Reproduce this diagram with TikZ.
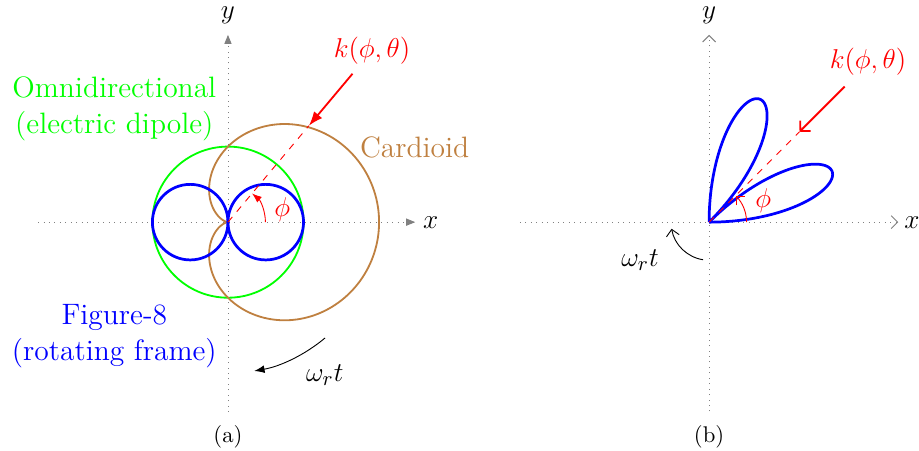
\documentclass[tikz,border=0pt]{standalone}
\usepackage{xcolor}
\usepackage{amssymb}
\usepackage{tikz}
\usetikzlibrary{arrows.meta}

\tikzset{
  axis/.style={gray, dotted},
  lbl/.style={font=\fontsize{13}{16}\selectfont, align=center},
}

\begin{document}
\begin{tikzpicture}
\useasboundingbox (-3.53,-3.53) rectangle (10.70,3.44);
% (a) static patterns
\draw[axis, -{Triangle[length=1.4mm,width=1.1mm]}] (-2.94,0) -- (2.9,0);
\draw[axis, -{Triangle[length=1.4mm,width=1.1mm]}] (0,-2.94) -- (0,2.9);
\node[lbl] (xa) at (3.14,0) {$x$};
\node[lbl] (ya) at (0,3.2) {$y$};
\draw[green, thick] (0,0) circle (1.17);
\draw[brown, thick, domain=0:360, samples=120, smooth] plot (\x:{1.17*(1+cos(\x))});
\draw[blue, line width=1.2pt] (-0.585,0) circle (0.585);
\draw[blue, line width=1.2pt] (0.585,0) circle (0.585);
\coordinate (oa) at (0,0);
\coordinate (ka-s) at (50:3.0);
\coordinate (ka-e) at (50:1.95);
\draw[red, dashed] (oa) -- (ka-e);
\draw[red, thick, -{Latex[length=2.2mm]}] (ka-s) -- (ka-e);
\draw[red, -{Latex[length=1.5mm]}] (0.58,0) arc (0:50:0.58);
\node[lbl, red] (phia) at (0.84,0.19) {$\phi$};
\node[lbl, red] (ka) at (2.23,2.66) {$k(\phi,\theta)$};
\node[lbl, brown] (card) at (2.89,1.15) {Cardioid};
\node[lbl, green] (omni) at (-1.76,1.76) {Omnidirectional\\(electric dipole)};
\node[lbl, blue] (fig8) at (-1.76,-1.76) {Figure-8\\(rotating frame)};
\draw[-{Latex[length=1.6mm]}] (-50:2.34) arc (-50:-80:2.34);
\node[lbl] (wa) at (1.5,-2.37) {$\omega_r t$};
\node (capa) at (0,-3.33) {(a)};

% (b) lobes seen from the rotating frame
\begin{scope}[xshift=7.45cm]
\draw[axis, -{Straight Barb[length=1mm,width=2mm]}] (-2.93,0) -- (2.93,0);
\draw[axis, -{Straight Barb[length=1mm,width=2mm]}] (0,-2.93) -- (0,2.9);
\node[lbl] (xb) at (3.14,0) {$x$};
\node[lbl] (yb) at (0,3.2) {$y$};
\draw[blue, line width=1.2pt, domain=0:90, samples=181, smooth] plot (\x:{2.06*abs(sin(4*\x))});
\coordinate (ob) at (0,0);
\coordinate (kb-s) at (45:2.97);
\coordinate (kb-e) at (45:1.98);
\draw[red, dashed] (ob) -- (kb-e);
\draw[red, thick, -{Straight Barb[length=1.1mm,width=2.3mm]}] (kb-s) -- (kb-e);
\draw[red, -{Straight Barb[length=1mm,width=2mm]}] (0.58,0) arc (0:45:0.58);
\node[lbl, red] (phib) at (0.84,0.34) {$\phi$};
\node[lbl, red] (kb) at (2.46,2.48) {$k(\phi,\theta)$};
\draw[-{Straight Barb[length=1mm,width=2mm]}] (-99:0.59) arc (-99:-170:0.59);
\node[lbl] (wb) at (-1.07,-0.59) {$\omega_r t$};
\node (capb) at (0,-3.33) {(b)};
\end{scope}
\end{tikzpicture}
\end{document}
